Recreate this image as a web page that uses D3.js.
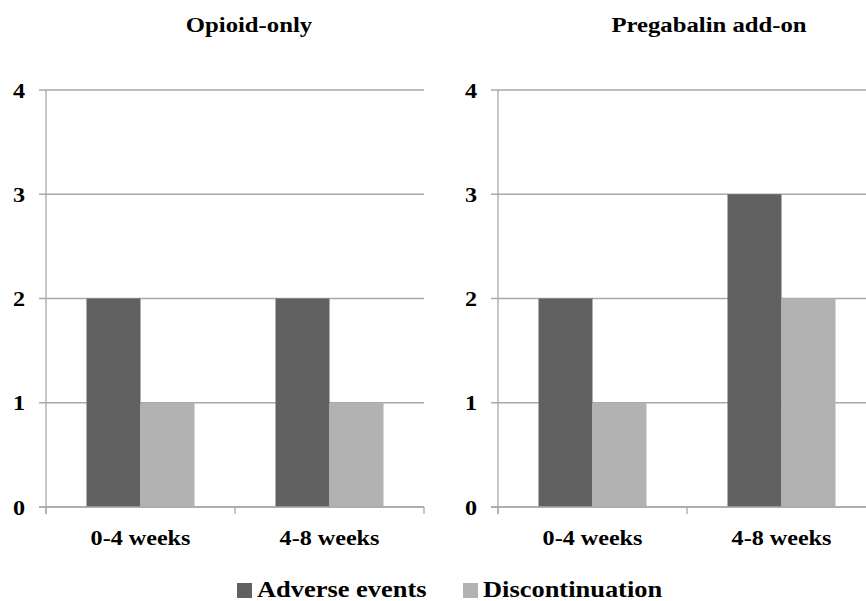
<!DOCTYPE html>
<html>
<head>
<meta charset="utf-8">
<script src="https://cdn.jsdelivr.net/npm/d3@7"></script>
<style>
  body { margin: 0; background: #fff; }
  text { font-family: "Liberation Serif", "Times New Roman", serif; font-weight: bold; fill: #000; }
</style>
</head>
<body>
<div id="chart"></div>
<script>
// Données
const panels = ["Opioid-only", "Pregabalin add-on"];
const periods = ["0-4 weeks", "4-8 weeks"];
const series = ["Adverse events", "Discontinuation"];
const opioidOnly = [[2, 1], [2, 1]];       // [période][série]
const pregabalinAddOn = [[2, 1], [3, 2]];
const yTicks = [0, 1, 2, 3, 4];
const colors = ["#616161", "#b2b2b2"];

const width = 866, height = 601;
const svg = d3.select("#chart").append("svg")
    .attr("width", width)
    .attr("height", height);

const panelData = [opioidOnly, pregabalinAddOn];
const panelLeft = [46, 498];
const titleX = [203, 211];
const plotW = 378, plotTop = 90, plotBottom = 507;
const stretch = 1.15;   // l'image d'origine est étirée horizontalement

const y = d3.scaleLinear().domain([0, 4]).range([plotBottom, plotTop]);

// texte étiré horizontalement
function label(sel, x, yy, size, anchor) {
    return sel.append("text")
        .attr("transform", (d, i) => {
            const tx = typeof x === "function" ? x(d, i) : x;
            const ty = typeof yy === "function" ? yy(d, i) : yy;
            return `translate(${tx},${ty}) scale(${stretch},1)`;
        })
        .attr("text-anchor", anchor)
        .style("font-size", size + "px");
}

panels.forEach((name, i) => {
    const g = svg.append("g").attr("transform", `translate(${panelLeft[i]},0)`);

    const x0 = d3.scaleBand().domain(periods).range([0, plotW]).padding(0);
    const x1 = d3.scaleBand().domain(series).range([0, x0.bandwidth()])
        .paddingInner(0).paddingOuter(0.75);

    // titre
    label(g, titleX[i], 32, 21.5, "middle").text(name);

    // lignes de grille
    g.selectAll(".grid")
        .data(yTicks)
        .enter().append("line")
        .attr("x1", -7).attr("x2", plotW)
        .attr("y1", d => y(d)).attr("y2", d => y(d))
        .attr("stroke", "#a9a9a9")
        .attr("stroke-width", 1.3);

    label(g.selectAll(".ylab").data(yTicks).enter(), -27, d => y(d) + 7.5, 21, "middle")
        .text(d => d);

    // barres
    const groups = g.selectAll(".grp")
        .data(panelData[i])
        .enter().append("g")
        .attr("transform", (d, j) => `translate(${x0(periods[j])},0)`);

    groups.selectAll("rect")
        .data(d => d)
        .enter().append("rect")
        .attr("x", (d, k) => x1(series[k]))
        .attr("width", x1.bandwidth())
        .attr("y", d => y(d))
        .attr("height", d => y(0) - y(d))
        .attr("fill", (d, k) => colors[k]);

    // axe vertical
    g.append("line")
        .attr("x1", 0).attr("x2", 0)
        .attr("y1", plotTop).attr("y2", plotBottom + 7)
        .attr("stroke", "#a9a9a9")
        .attr("stroke-width", 1.3);

    // axe horizontal
    g.append("line")
        .attr("x1", -7).attr("x2", plotW)
        .attr("y1", plotBottom).attr("y2", plotBottom)
        .attr("stroke", "#a9a9a9")
        .attr("stroke-width", 1.3);

    const edges = [0, ...periods.map(p => x0(p) + x0.bandwidth())];
    g.selectAll(".xtick")
        .data(edges)
        .enter().append("line")
        .attr("x1", d => d).attr("x2", d => d)
        .attr("y1", plotBottom).attr("y2", plotBottom + 7)
        .attr("stroke", "#a9a9a9")
        .attr("stroke-width", 1.3);

    label(g.selectAll(".xlab").data(periods).enter(),
          d => x0(d) + x0.bandwidth() / 2, 545, 21, "middle")
        .text(d => d);
});

// légende
const legendX = [237, 463];
const legend = svg.selectAll(".legend")
    .data(series)
    .enter().append("g")
    .attr("transform", (d, i) => `translate(${legendX[i]},583)`);

legend.append("rect")
    .attr("width", 15).attr("height", 15)
    .attr("fill", (d, i) => colors[i]);

label(legend, 20, 14, 23, "start").text(d => d);
</script>
</body>
</html>
